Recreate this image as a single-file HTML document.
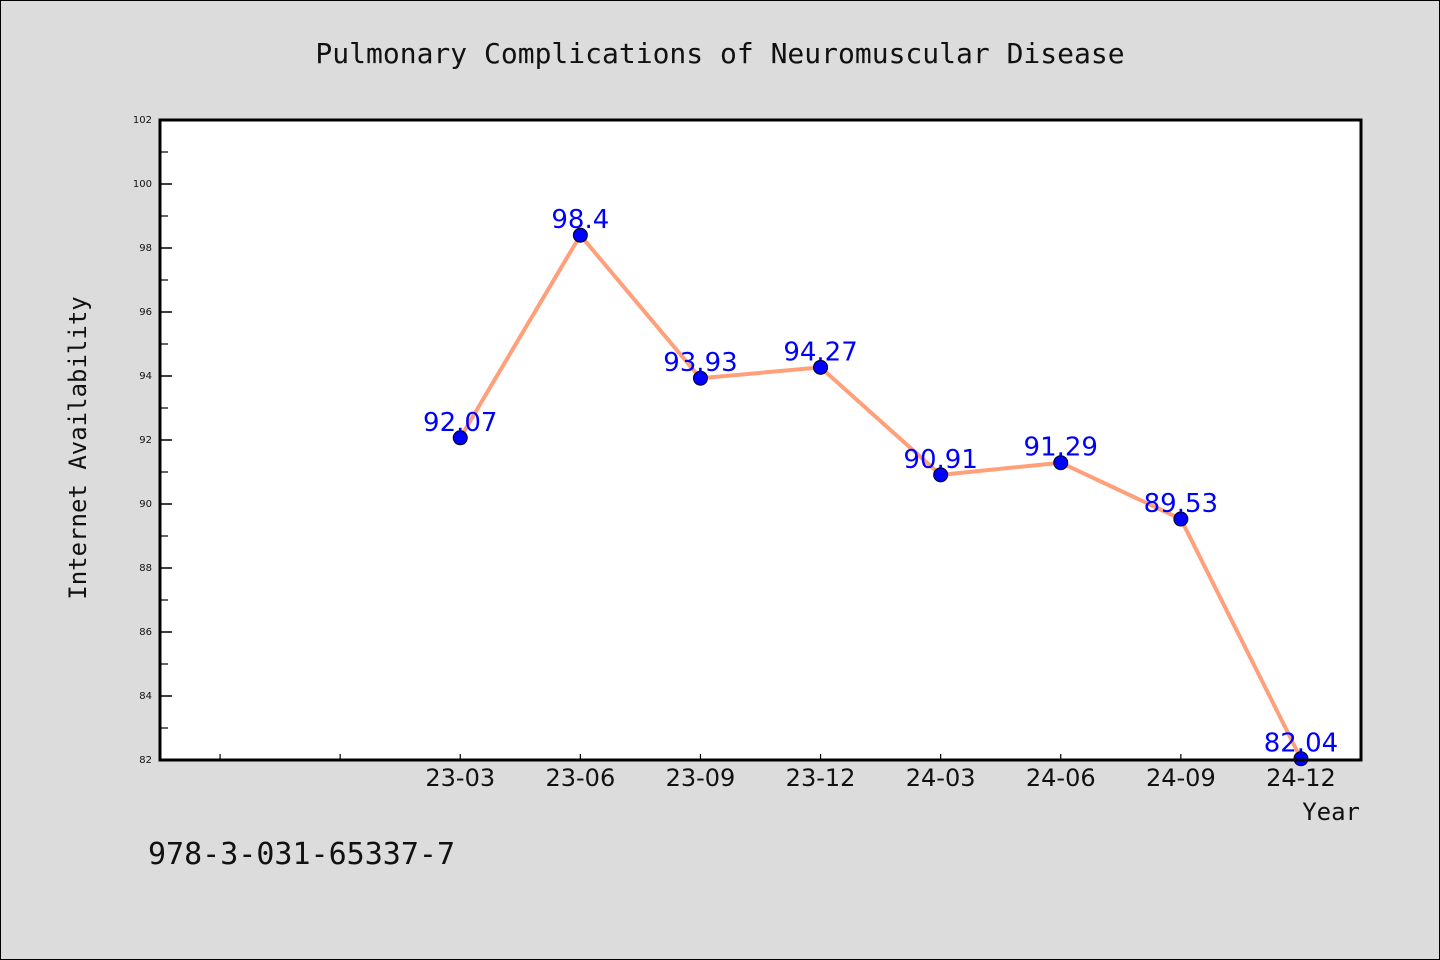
<!DOCTYPE html>
<html><head><meta charset="utf-8"><style>
body{margin:0;background:#dcdcdc;}
svg{display:block;font-family:"DejaVu Sans","Liberation Sans",sans-serif;}
</style></head><body>
<svg id="chart" width="1440" height="960">
<rect x="0.5" y="0.5" width="1439" height="959" fill="#dcdcdc" stroke="#000"/>
<text x="720" y="63" text-anchor="middle" font-size="28" font-family="DejaVu Sans Mono, monospace" fill="#111">Pulmonary Complications of Neuromuscular Disease</text>
<rect x="160" y="120" width="1201" height="640" fill="#fff"/>
<g id="axes"></g>
<g id="series"></g>
<rect x="160" y="120" width="1201" height="640" fill="none" stroke="#000" stroke-width="3"/>
<text x="86" y="448" transform="rotate(-90 86 448)" text-anchor="middle" font-size="24" font-family="DejaVu Sans Mono, monospace" fill="#111">Internet Availability</text>
<text x="1360" y="820" text-anchor="end" font-size="24" font-family="DejaVu Sans Mono, monospace" fill="#111">Year</text>
<text x="148" y="864" font-size="30" font-family="DejaVu Sans Mono, monospace" fill="#111">978-3-031-65337-7</text>
</svg>
<script>
const categories = ["23-03","23-06","23-09","23-12","24-03","24-06","24-09","24-12"];
const values = [92.07,98.4,93.93,94.27,90.91,91.29,89.53,82.04];
const labels = ["92.07","98.4","93.93","94.27","90.91","91.29","89.53","82.04"];
const yTicks = [82,84,86,88,90,92,94,96,98,100,102];

const NS="http://www.w3.org/2000/svg";
const X0=160,X1=1361,Y0=760,Y1=120;
const xMin=-2.5,xMax=7.5,yMin=82,yMax=102;
function xs(i){return X0+(i-xMin)/(xMax-xMin)*(X1-X0);}
function ys(v){return Y0-(v-yMin)/(yMax-yMin)*(Y0-Y1);}
function mk(tag,attrs,parent){const e=document.createElementNS(NS,tag);for(const k in attrs)e.setAttribute(k,attrs[k]);parent.appendChild(e);return e;}
const axes=document.getElementById('axes'),ser=document.getElementById('series');
yTicks.forEach((t,k)=>{
  const y=ys(t);
  const l=mk('line',{x1:X0,x2:X0+12,y1:y,y2:y,stroke:'#000','stroke-width':1.5},axes);
  
  
  const tx=mk('text',{x:X0-8,y:y+3,'text-anchor':'end','font-size':10,fill:'#111'},axes);
  
  
  tx.textContent=t;
  if(k<yTicks.length-1){
    const ym=ys(t+1);
    const m=mk('line',{x1:X0,x2:X0+8,y1:ym,y2:ym,stroke:'#000','stroke-width':1.2},axes);
    
    
  }
});
for(let i=-2;i<categories.length;i++){
  const x=xs(i);
  const l=mk('line',{x1:x,x2:x,y1:Y0,y2:Y0-6,stroke:'#000','stroke-width':1.2},axes);
  
  
  if(i>=0){
    const tx=mk('text',{x:x,y:786,'text-anchor':'middle','font-size':24,fill:'#111'},axes);
    
    
    tx.textContent=categories[i];
  }
}
const pts=values.map((v,i)=>xs(i)+','+ys(v)).join(' ');
const line=mk('polyline',{points:pts,fill:'none',stroke:'#ffa07a','stroke-width':4,'stroke-linejoin':'round'},ser);


values.forEach((v,i)=>{
  const c=mk('circle',{cx:xs(i),cy:ys(v),r:7,fill:'#0000ff',stroke:'#000','stroke-width':1},ser);
  
  
  const t=mk('text',{x:xs(i),y:ys(v)-7,'text-anchor':'middle','font-size':26,fill:'#0000ff'},ser);
  
  
  t.textContent=labels[i];
});
</script>
</body></html>
